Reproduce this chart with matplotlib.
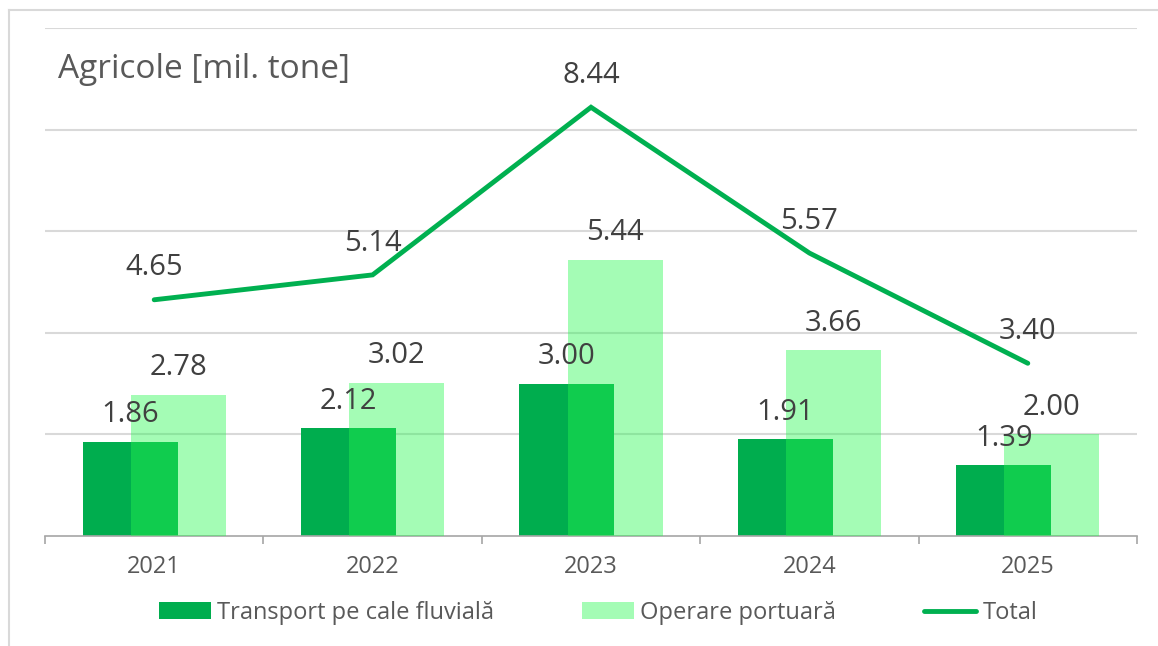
import numpy as np
import matplotlib
matplotlib.use('Agg')
import matplotlib.pyplot as plt
from matplotlib.patches import Patch
from matplotlib.lines import Line2D

plt.rcParams['font.family'] = ['Open Sans', 'DejaVu Sans']

# data
years = ['2021', '2022', '2023', '2024', '2025']
transport = [1.86, 2.12, 3.00, 1.91, 1.39]
operare = [2.78, 3.02, 5.44, 3.66, 2.00]
total = [4.65, 5.14, 8.44, 5.57, 3.40]

title = 'Agricole [mil. tone]'
series_names = ['Transport pe cale fluvială', 'Operare portuară', 'Total']

DARK = '#00ad4e'
LIGHT = '#28f84f'
LINE = '#00b050'
GRID = '#d9d9d9'
TXT = '#595959'
LBL = '#404040'

W, H = 1158, 646
fig = plt.figure(figsize=(W / 100, H / 100), dpi=100)
ax = fig.add_axes([45 / W, 1 - 536 / H, (1137 - 45) / W, (536 - 28) / H])

x = np.arange(len(years))
bw = 0.435
off = 0.11

ax.bar(x - off, transport, width=bw, color=DARK, zorder=2)
ax.bar(x + off, operare, width=bw, color=LIGHT, alpha=0.42, zorder=3)
ax.plot(x, total, color=LINE, lw=3.5, solid_capstyle='round',
        solid_joinstyle='miter', zorder=4)

# value labels
for xi, v in zip(x, transport):
    ax.annotate(f'{v:.2f}', (xi - off, v), xytext=(0, 14), textcoords='offset points',
                ha='center', va='baseline', fontsize=21, color=LBL, zorder=5)
for xi, v in zip(x, operare):
    ax.annotate(f'{v:.2f}', (xi + off, v), xytext=(0, 14), textcoords='offset points',
                ha='center', va='baseline', fontsize=21, color=LBL, zorder=5)
for xi, v in zip(x, total):
    ax.annotate(f'{v:.2f}', (xi, v), xytext=(0, 17.5), textcoords='offset points',
                ha='center', va='baseline', fontsize=21, color=LBL, zorder=5)

ax.set_xlim(-0.5, len(years) - 0.5)
ax.set_ylim(0, 10)
ax.set_yticks([2, 4, 6, 8, 10])
ax.yaxis.grid(True, color=GRID, lw=1.5, zorder=0)
ax.set_axisbelow(True)
ax.tick_params(axis='y', length=0, labelleft=False)

ax.set_xticks(x)
ax.set_xticklabels(years)
ax.set_xticks(np.arange(-0.5, len(years)), minor=True)
ax.tick_params(axis='x', which='major', length=0, pad=14, labelsize=17, labelcolor=TXT)
ax.tick_params(axis='x', which='minor', length=6, width=1.2, color='#a6a6a6', direction='out')

for s in ['top', 'right', 'left']:
    ax.spines[s].set_visible(False)
ax.spines['bottom'].set_color('#a6a6a6')
ax.spines['bottom'].set_linewidth(1.2)

fig.text(58 / W, 1 - 70 / H, title, fontsize=24, color=TXT, ha='left', va='center')

handles = [Patch(facecolor=DARK, edgecolor='none'),
           Patch(facecolor=LIGHT, alpha=0.42, edgecolor='none'),
           Line2D([0], [0], color=LINE, lw=3.5, solid_capstyle='round')]
fig.legend(handles, series_names, loc='center', bbox_to_anchor=(598 / W, 1 - 613 / H),
           ncol=3, frameon=False, fontsize=17, labelcolor=TXT, handlelength=2.2,
           handletextpad=0.25, columnspacing=3.75, borderpad=0)

# outer frame (top and left visible)
fig.add_artist(Line2D([9 / W, 1], [1 - 10 / H, 1 - 10 / H], transform=fig.transFigure,
                      color=GRID, lw=1.5))
fig.add_artist(Line2D([9 / W, 9 / W], [0, 1 - 10 / H], transform=fig.transFigure,
                      color=GRID, lw=1.5))

fig.savefig('out.png', dpi=100)
